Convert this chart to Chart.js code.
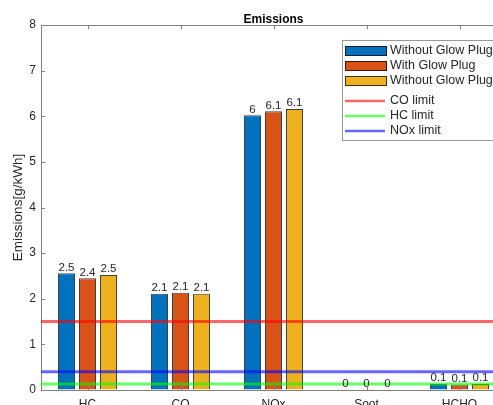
<!DOCTYPE html>
<html>
<head>
<meta charset="utf-8" />
<script src="https://cdn.jsdelivr.net/npm/chart.js@4.4.1/dist/chart.umd.min.js"></script>
<style>
  body { margin: 0; background: #fff; }
  #wrap { width: 493px; height: 405px; overflow: hidden; }
</style>
</head>
<body>
<div id="wrap"><canvas id="emissions" width="520" height="420"></canvas></div>
<script>
const pollutants = ["HC", "CO", "NOx", "Soot", "HCHO"];
const withoutGlowPlugA = [2.56, 2.11, 6.02, 0.004, 0.13];
const withGlowPlug = [2.45, 2.13, 6.11, 0.004, 0.12];
const withoutGlowPlugB = [2.52, 2.11, 6.16, 0.004, 0.13];
const limitLabels = ["CO limit", "HC limit", "NOx limit"];
const limitValues = [1.5, 0.13, 0.4];
const yMax = 8;

const FONT = "'Liberation Sans', Arial, Helvetica, sans-serif";
const INK = "#262626";
const AXIS = "#808080";
const limitColors = ["rgba(255,0,0,0.6)", "rgba(0,255,0,0.6)", "rgba(0,0,255,0.6)"];

// truncated to one decimal, like the original annotations
function barText(v) {
  return String(Math.floor(v * 10 + 1e-9) / 10);
}

const matlabAxes = {
  id: "matlabAxes",
  afterDatasetsDraw(chart) {
    const ctx = chart.ctx;
    const a = chart.chartArea;
    const y = chart.scales.y;
    const x = chart.scales.x;

    // horizontal limit lines across the full axis width
    ctx.save();
    ctx.lineWidth = 3;
    limitValues.forEach((v, i) => {
      const py = y.getPixelForValue(v);
      ctx.strokeStyle = limitColors[i];
      ctx.beginPath();
      ctx.moveTo(a.left, py);
      ctx.lineTo(a.right, py);
      ctx.stroke();
    });
    ctx.restore();

    // value annotations above bars
    ctx.save();
    ctx.font = "11.5px " + FONT;
    ctx.fillStyle = INK;
    ctx.textAlign = "center";
    ctx.textBaseline = "bottom";
    chart.data.datasets.forEach((ds, i) => {
      chart.getDatasetMeta(i).data.forEach((el, j) => {
        ctx.fillText(barText(ds.data[j]), el.x, el.y);
      });
    });
    ctx.restore();

    // box top edge and inward ticks
    ctx.save();
    ctx.strokeStyle = AXIS;
    ctx.lineWidth = 1;
    ctx.beginPath();
    ctx.moveTo(a.left, a.top + 0.5);
    ctx.lineTo(a.right, a.top + 0.5);
    y.ticks.forEach(t => {
      const py = Math.round(y.getPixelForValue(t.value)) + 0.5;
      ctx.moveTo(a.left, py);
      ctx.lineTo(a.left + 4, py);
    });
    pollutants.forEach((p, i) => {
      const px = Math.round(x.getPixelForValue(i)) + 0.5;
      ctx.moveTo(px, a.bottom);
      ctx.lineTo(px, a.bottom - 4);
      ctx.moveTo(px, a.top);
      ctx.lineTo(px, a.top + 4);
    });
    ctx.stroke();
    ctx.restore();
  },
  afterDraw(chart) {
    const ctx = chart.ctx;
    const a = chart.chartArea;

    // title
    ctx.save();
    ctx.font = "bold 12px " + FONT;
    ctx.fillStyle = "#000";
    ctx.textAlign = "center";
    ctx.textBaseline = "alphabetic";
    ctx.fillText("Emissions", (a.left + a.right) / 2, 23);
    ctx.restore();

    // legend: bar series first, then limit lines
    const lx = 342, ly = 40;
    const rows = [51, 66, 81, 101, 116, 131];
    ctx.save();
    ctx.fillStyle = "#fff";
    ctx.fillRect(lx, ly, 200, 100);
    ctx.strokeStyle = "#999";
    ctx.lineWidth = 1;
    ctx.strokeRect(lx + 0.5, ly + 0.5, 200, 100);
    ctx.font = "12.5px " + FONT;
    ctx.textBaseline = "middle";
    chart.data.datasets.forEach((ds, i) => {
      const cy = rows[i];
      ctx.fillStyle = ds.backgroundColor;
      ctx.fillRect(345, cy - 5, 42, 10);
      ctx.strokeStyle = "rgba(0,0,0,0.75)";
      ctx.lineWidth = 1;
      ctx.strokeRect(345.5, cy - 4.5, 41, 9);
      ctx.fillStyle = INK;
      ctx.fillText(ds.label, 390, cy);
    });
    limitLabels.forEach((lbl, i) => {
      const cy = rows[3 + i];
      ctx.strokeStyle = limitColors[i];
      ctx.lineWidth = 2.5;
      ctx.beginPath();
      ctx.moveTo(345, cy);
      ctx.lineTo(385, cy);
      ctx.stroke();
      ctx.fillStyle = INK;
      ctx.fillText(lbl, 390, cy);
    });
    ctx.restore();
  }
};

const barStyle = {
  borderColor: "rgba(0,0,0,0.75)",
  borderWidth: 1,
  categoryPercentage: 0.677,
  barPercentage: 0.81
};

new Chart(document.getElementById("emissions"), {
  type: "bar",
  data: {
    labels: pollutants,
    datasets: [
      Object.assign({ label: "Without Glow Plug", data: withoutGlowPlugA, backgroundColor: "#0072BD" }, barStyle),
      Object.assign({ label: "With Glow Plug", data: withGlowPlug, backgroundColor: "#D95319" }, barStyle),
      Object.assign({ label: "Without Glow Plug", data: withoutGlowPlugB, backgroundColor: "#EDB120" }, barStyle)
    ]
  },
  options: {
    responsive: false,
    animation: false,
    layout: { padding: { top: 25, right: 14, left: 0, bottom: 0 } },
    plugins: {
      legend: { display: false },
      title: { display: false },
      tooltip: { enabled: false }
    },
    scales: {
      x: {
        grid: { drawOnChartArea: false, drawTicks: false },
        border: { color: AXIS },
        ticks: { color: INK, font: { family: FONT, size: 12 }, padding: 7 },
        afterFit(s) { s.height = 30; }
      },
      y: {
        min: 0,
        max: yMax,
        grid: { drawOnChartArea: false, drawTicks: false },
        border: { color: AXIS },
        ticks: { stepSize: 1, color: INK, font: { family: FONT, size: 12 }, padding: 5 },
        title: {
          display: true,
          text: "Emissions[g/kWh]",
          color: INK,
          font: { family: FONT, size: 13.5 },
          padding: { top: 10, bottom: 0 }
        },
        afterFit(s) { s.width = 41; }
      }
    }
  },
  plugins: [matlabAxes]
});
</script>
</body>
</html>
